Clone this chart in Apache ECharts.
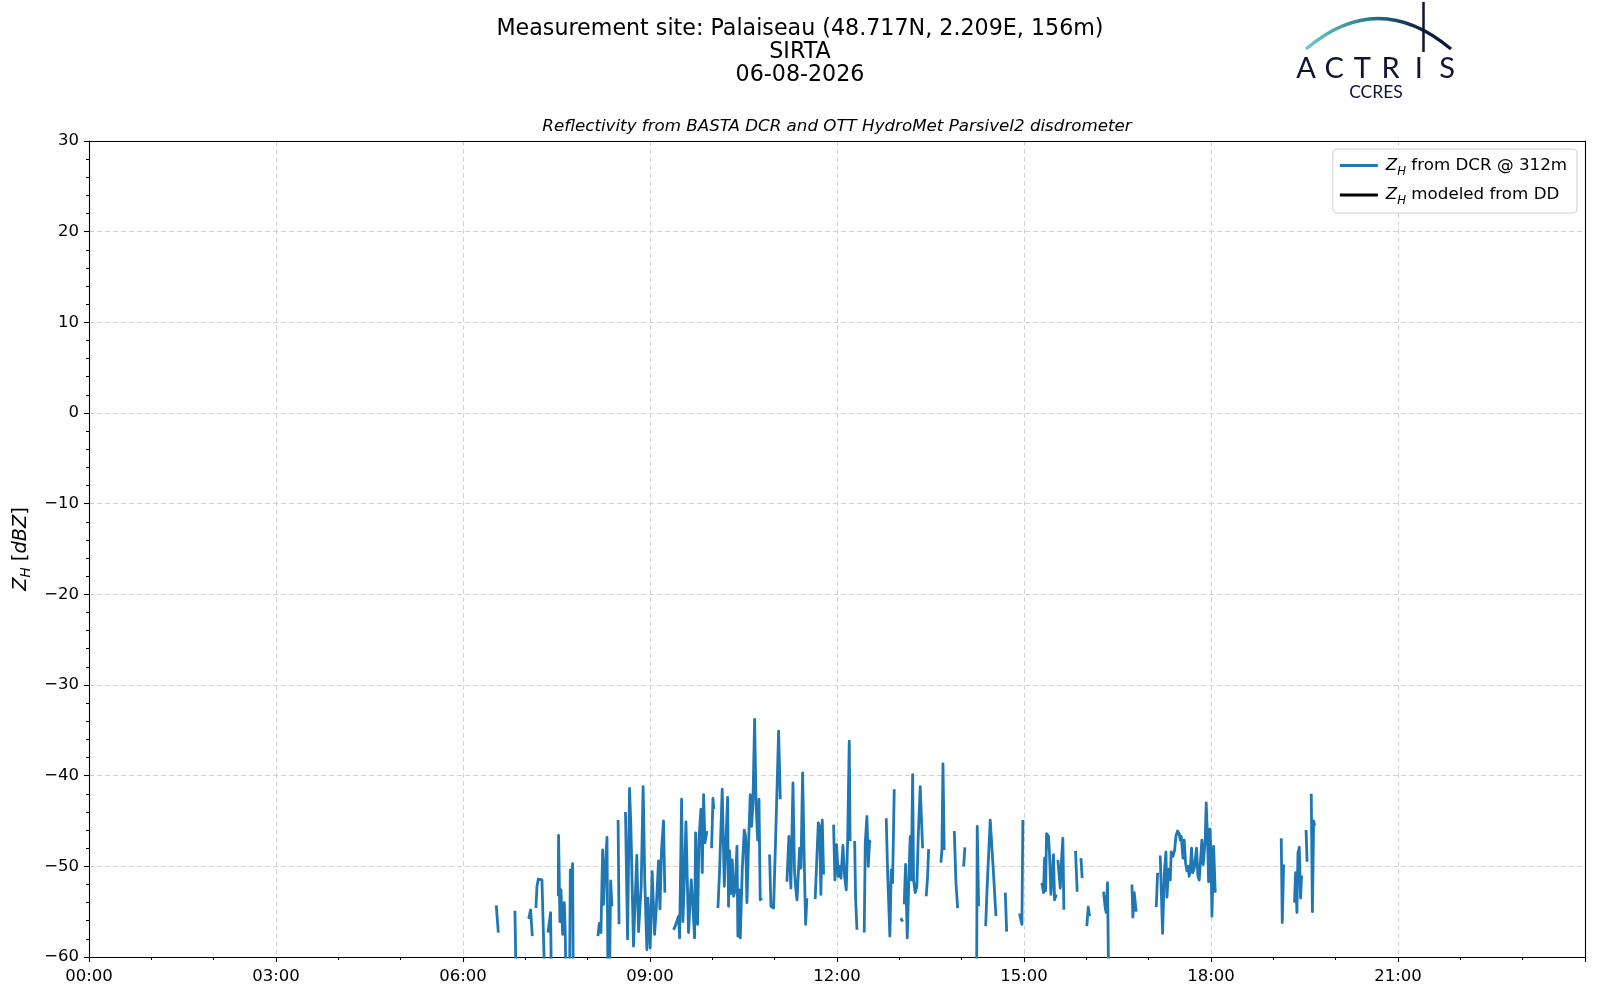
<!DOCTYPE html>
<html>
<head>
<meta charset="utf-8">
<script src="https://cdn.jsdelivr.net/npm/echarts@6/dist/echarts.min.js"></script>
<style>
  html, body { margin: 0; padding: 0; background: #fff; }
  #chart { width: 1600px; height: 1000px; }
</style>
</head>
<body>
<div id="chart"></div>
<script>
// titles
const titleLines = [
  'Measurement site: Palaiseau (48.717N, 2.209E, 156m)',
  'SIRTA',
  '06-08-2026'
];
const subTitle = 'Reflectivity from BASTA DCR and OTT HydroMet Parsivel2 disdrometer';
const seriesNames = ['Z_H from DCR @ 312m', 'Z_H modeled from DD'];

// axis ticks
const xTickStep = 180; // minutes
const yTicks = { min: -60, max: 30, step: 10 };

// Z_H from DCR, [minutes since 00:00 UTC, dBZ], one list per gap-free stretch
const dcrMorning = [
  [[392, -54.3], [394, -57.3]],
  [[410, -54.9], [411, -62]],
  [[423.2, -55.8], [425.1, -54.8], [426.7, -57.7]],
  [[430.2, -54.6], [431.2, -52.2], [432.5, -51.4], [436, -51.5], [437.6, -51.4], [438.5, -62]],
  [[441.8, -57.3], [443, -57.5], [444.3, -55.1], [445, -62]],
  [[451.7, -53.3], [452, -46.6], [453, -46.7], [453.3, -56.1], [454.3, -52.6], [455.2, -52.7],
   [455.9, -57.5], [457.5, -54], [458.4, -57.3], [459, -62]],
  [[462.6, -62], [463.3, -50.4], [464.3, -54.4], [465.5, -49.7], [466.1, -62]],
  [[489.9, -57.7], [491.2, -56.3], [492.8, -57.3], [494.4, -48.2], [495.3, -54.2], [496.3, -51.5],
   [498.6, -46.8], [499.5, -62]],
  [[501.1, -62], [502.1, -51.6], [503.4, -54.4]],
  [[509.3, -44.9], [510.2, -56.4]],
  [[516.4, -44], [518.4, -58], [520.3, -41.4], [521.6, -45.6], [524.1, -58.8], [527.3, -48.8],
   [529, -57.2], [531.5, -52.2], [533.4, -41.2], [535, -51.8], [537, -59.2], [538, -53.5],
   [540.2, -59], [542.1, -50.6], [544.4, -57.5], [546, -54.7], [548.2, -49.4], [549.6, -54.7],
   [551.1, -48.2], [553, -45], [554.3, -52.9]]
];

const dcrMidday = [
  [[562.7, -57], [564.3, -56.6], [566, -56.8], [567.5, -55.5], [568.5, -57.9], [570.4, -42.6],
   [571.7, -56.1], [573.3, -50.7], [574.6, -45.1], [576.2, -45.2], [577.1, -57.3], [578.7, -53.7],
   [579.7, -51.5], [581.3, -54.4], [582.9, -57.9], [583.9, -46.3], [585.8, -56.4], [587.1, -47.1],
   [589, -43.7], [590.3, -50.7], [591.6, -42.1], [592.9, -47.4], [594.8, -46.1]],
  [[599.3, -48], [600.6, -42.5], [601.5, -43.7]],
  [[605.4, -54.6], [606.9, -50.7], [609.5, -41.5], [611.5, -52.2], [614.7, -42.4], [615.6, -54.4],
   [616.6, -48.3], [617.9, -53], [619.2, -49.3], [620.5, -53.3], [622, -52.6], [623.7, -47.8],
   [624.6, -57.7], [625.9, -52.6], [626.9, -57.9], [628.8, -50.4], [630.7, -46], [632, -46.7],
   [633.3, -54], [634.9, -47.4], [636.5, -42.1], [637.8, -45.6], [639.1, -43], [640.7, -33.8],
   [642, -42.8], [643.6, -47.1], [644.9, -42.6], [646.1, -53.7], [647.7, -53.5]],
  [[655.1, -48.7], [656.4, -54.4], [659, -54.6], [660.6, -48.2], [662.2, -48.4], [663.8, -35.1],
   [665.4, -42.6]],
  [[671.8, -51.7], [673.7, -46.7], [675.6, -52.4], [677.6, -40.8], [679.1, -50.5], [680.1, -52.2],
   [681.5, -53.7], [682.6, -53.6], [684, -48], [685.3, -50.2], [686.9, -39.7], [688.5, -49.6],
   [689.8, -56.4], [691, -53.5]]
];

const dcrNoon = [
  [[699, -53.6], [700.6, -53.5], [702, -45.2], [703.3, -45.6], [704.5, -53.1], [705.8, -44.9], [707.1, -50.9]],
  [[716.7, -45.4], [718, -51.5], [719.6, -47.6], [721.2, -51.1], [722.5, -50], [723.8, -51.3],
   [725.7, -47.7], [727.3, -51.1], [728.9, -52.6], [730.2, -47.4], [731.8, -36.2], [732.6, -47.2]],
  [[737, -47.2], [737.9, -53.5], [739.2, -57]],
  [[746.2, -57.3], [747.2, -47.4], [748.8, -44.5], [750.1, -50], [751.4, -47.2], [752, -47.4]],
  [[767.4, -44.7], [768.7, -50.6], [769.9, -50.8], [770.9, -57.7], [772.2, -50.4], [773.5, -51.8], [775.1, -41.5]],
  [[781.5, -55.7], [783.2, -56.1]],
  [[784.7, -54.2], [786, -49.8], [787.6, -57.9], [789.5, -50], [790.5, -46.7], [791.5, -51.5],
   [792.8, -39.9], [793.7, -51.5], [795.3, -52.9], [796.9, -52.2], [798.2, -46.7], [800.1, -41.2],
   [801.7, -41], [802.4, -48]],
  [[805.9, -53.3], [807.2, -51.1], [808.2, -48.1]],
  [[820, -49.6], [821, -48.2], [822, -38.7], [823.2, -48.2]],
  [[832.9, -46.1], [834.5, -51.8], [836.1, -54.6]],
  [[841.9, -50], [843.1, -47.9]],
  [[854.4, -62], [855, -45.6], [856.3, -54.4]],
  [[863.1, -56.6], [864.4, -52.6], [865.6, -52.4], [867.5, -44.9], [868.8, -44.7], [870.7, -50.9], [873, -55.5]],
  [[882, -52.9], [883.3, -57.2]],
  [[895.7, -55.2], [897, -55.3], [898, -56.4], [898.9, -44.9]]
];

const dcrAfternoon = [
  [[917.2, -51.8], [918.8, -52.9], [919.8, -49.1], [920.8, -52.7], [921.7, -46.4], [923.6, -46.7],
   [924.6, -48.7], [925.9, -53.1], [927.4, -53.1], [928.4, -48.7], [929.4, -53.7], [931, -53.1]],
  [[932.6, -49.3], [934.9, -52.4], [936.1, -49.3], [937.4, -46.9], [938.4, -54.8]],
  [[949.6, -48.3], [951.2, -52.8]],
  [[954.8, -49.1], [956, -51.3]],
  [[960.5, -56.6], [961.8, -54.5], [963.1, -55.5]],
  [[976.6, -52.8], [978.2, -54.6], [979.1, -55.1], [980.4, -51.8], [981.4, -62]],
  [[1003.9, -52], [1004.8, -55.6], [1006.1, -52.9], [1008, -55]],
  [[1027.3, -54.5], [1028.6, -50.7]],
  [[1031.1, -48.8], [1033.4, -57.4], [1035, -50.9], [1036.6, -48.4], [1037.6, -53.4], [1039.2, -50.3],
   [1040.8, -51.5], [1041.7, -48.4], [1043.3, -48.9], [1045, -48.2], [1046.2, -46.7], [1047.8, -46.1],
   [1049.4, -46.4], [1050.4, -47.1], [1051.4, -46.7], [1053, -49.1], [1054.2, -47.1], [1055.5, -49.6],
   [1056.8, -50.5], [1058, -50], [1059, -51.1], [1060, -50.4], [1061.3, -48], [1062.3, -50.7],
   [1063.9, -50.2], [1065.1, -50], [1066.1, -48], [1067.4, -51.1], [1068.7, -51.5], [1070.3, -51.5],
   [1071.2, -47.1], [1072.5, -49.8], [1074.4, -47.1], [1075.4, -43], [1076.7, -47.1], [1077.7, -51.7],
   [1079, -45.9], [1080, -48.7], [1080.9, -55.5], [1082.5, -47.8], [1084.1, -52.9]]
];

const dcrEvening = [
  [[1147.6, -46.9], [1148.6, -56.2], [1149.9, -49.8]],
  [[1160.4, -54], [1161.4, -50.7], [1162.7, -55.1], [1163.7, -48.5], [1165, -47.9], [1166.2, -53.5], [1167.2, -51]],
  [[1171.5, -46], [1172.5, -49.5]],
  [[1176.5, -42], [1177.6, -55], [1178.8, -45], [1179.8, -45.5]]
];

// Z_H modeled from the disdrometer: nothing to draw on this day
const ddModeled = [];

// helpers
const toLineData = segments =>
  segments.flatMap(seg => [...seg, [seg[seg.length - 1][0], '-']]);

const pad2 = n => String(n).padStart(2, '0');
const hhmm = minutes => pad2(Math.floor(minutes / 60) % 24) + ':' + pad2(minutes % 60);
const minusSign = v => (v < 0 ? '\u2212' + Math.abs(v) : String(v));
const mathLabel = name => {
  const rest = name.slice(3);
  return '{z|Z}{h|H}{t|' + rest + '}';
};

const FONT = 'DejaVu Sans';
const NAVY = '#0f1433';
const mathRich = size => ({
  z: { fontStyle: 'italic', fontSize: size, fontFamily: FONT, lineHeight: 24, color: '#000' },
  h: { fontStyle: 'italic', fontSize: size * 0.7, fontFamily: FONT, lineHeight: 13, verticalAlign: 'bottom', color: '#000' },
  t: { fontSize: size, fontFamily: FONT, lineHeight: 24, color: '#000' }
});

const dcrData = toLineData([
  ...dcrMorning,
  ...dcrMidday,
  ...dcrNoon,
  ...dcrAfternoon,
  ...dcrEvening
]);

const chart = echarts.init(document.getElementById('chart'), null, { renderer: 'canvas' });

const frameAxis = {
  type: 'value',
  axisLine: { show: true, onZero: false, lineStyle: { color: '#000', width: 1.1 } },
  axisTick: { show: false },
  axisLabel: { show: false },
  splitLine: { show: false }
};

const logoLetters = 'ACTRIS'.split('').map((ch, i) => ({
  type: 'text',
  x: 1306 + i * 28.2,
  y: 69,
  style: {
    text: ch,
    fontSize: 29,
    fontFamily: 'Lato',
    fill: NAVY,
    align: 'center',
    verticalAlign: 'middle'
  }
}));

const option = {
  animation: false,
  backgroundColor: '#fff',
  textStyle: { fontFamily: FONT, color: '#000' },
  grid: { left: 89, right: 15, top: 141, bottom: 43 },
  legend: {
    orient: 'vertical',
    right: 23,
    top: 149,
    padding: [8, 10, 6, 7],
    itemGap: 9,
    itemWidth: 38,
    itemHeight: 2.8,
    icon: 'rect',
    backgroundColor: 'rgba(255,255,255,0.8)',
    borderColor: '#d0d0d0',
    borderWidth: 1,
    borderRadius: 4,
    data: seriesNames,
    formatter: mathLabel,
    textStyle: { fontSize: 16.7, padding: [0, 0, 0, 3], rich: mathRich(16.7) }
  },
  xAxis: [
    {
      type: 'value',
      min: 0,
      max: 1440,
      interval: xTickStep,
      axisLine: { show: true, onZero: false, lineStyle: { color: '#000', width: 1.1 } },
      axisTick: { show: true, length: 5, lineStyle: { color: '#000', width: 1.1 } },
      minorTick: { show: true, splitNumber: 3, length: 3, lineStyle: { color: '#000', width: 1 } },
      splitLine: { show: true, lineStyle: { color: '#d3d3d3', width: 1, type: [5, 3] } },
      axisLabel: {
        fontSize: 16.5,
        color: '#000',
        margin: 11,
        formatter: v => (v >= 1440 ? '' : hhmm(v))
      }
    },
    { ...frameAxis, min: 0, max: 1440, position: 'top' }
  ],
  yAxis: [
    {
      type: 'value',
      min: yTicks.min,
      max: yTicks.max,
      interval: yTicks.step,
      axisLine: { show: true, onZero: false, lineStyle: { color: '#000', width: 1.1 } },
      axisTick: { show: true, length: 5, lineStyle: { color: '#000', width: 1.1 } },
      minorTick: { show: true, splitNumber: 5, length: 3, lineStyle: { color: '#000', width: 1 } },
      splitLine: { show: true, lineStyle: { color: '#d3d3d3', width: 1, type: [5, 3] } },
      axisLabel: { fontSize: 16.5, color: '#000', margin: 10, formatter: minusSign },
      name: '{z|Z}{h|H}{t| [}{z|dBZ}{t|]}',
      nameLocation: 'middle',
      nameRotate: 90,
      nameGap: 54,
      nameTextStyle: { fontSize: 19.4, rich: mathRich(19.4) }
    },
    { ...frameAxis, min: yTicks.min, max: yTicks.max, position: 'right' }
  ],
  series: [
    {
      name: seriesNames[0],
      type: 'line',
      data: dcrData,
      symbol: 'none',
      connectNulls: false,
      clip: true,
      color: '#1f77b4',
      lineStyle: { color: '#1f77b4', width: 2.8, join: 'round' },
      emphasis: { disabled: true }
    },
    {
      name: seriesNames[1],
      type: 'line',
      data: ddModeled,
      symbol: 'none',
      color: '#000',
      lineStyle: { color: '#000', width: 2.8 }
    }
  ],
  graphic: [
    ...titleLines.map((line, i) => ({
      type: 'text',
      x: 800,
      y: 29.5 + i * 23,
      style: { text: line, fontSize: 22.2, fontFamily: FONT, fill: '#000', align: 'center', verticalAlign: 'middle' }
    })),
    {
      type: 'text',
      x: 837,
      y: 126.5,
      style: { text: subTitle, fontSize: 16.7, fontStyle: 'italic', fontFamily: FONT, fill: '#000', align: 'center', verticalAlign: 'middle' }
    },
    // ACTRIS / CCRES logo
    {
      type: 'bezierCurve',
      shape: { x1: 1306, y1: 49, cpx1: 1378, cpy1: -12, x2: 1451, y2: 49 },
      style: {
        fill: null,
        lineWidth: 3.2,
        stroke: new echarts.graphic.LinearGradient(0, 0, 1, 0, [
          { offset: 0, color: '#78cbc6' },
          { offset: 0.45, color: '#227a88' },
          { offset: 0.75, color: '#13244a' },
          { offset: 1, color: NAVY }
        ])
      }
    },
    {
      type: 'line',
      shape: { x1: 1423.5, y1: 2, x2: 1423.5, y2: 52 },
      style: { stroke: NAVY, lineWidth: 2.5 }
    },
    ...logoLetters,
    {
      type: 'text',
      x: 1376,
      y: 92.5,
      style: { text: 'CCRES', fontSize: 17.5, fontFamily: 'Lato', fill: NAVY, align: 'center', verticalAlign: 'middle' }
    }
  ]
};

chart.setOption(option);
</script>
</body>
</html>
